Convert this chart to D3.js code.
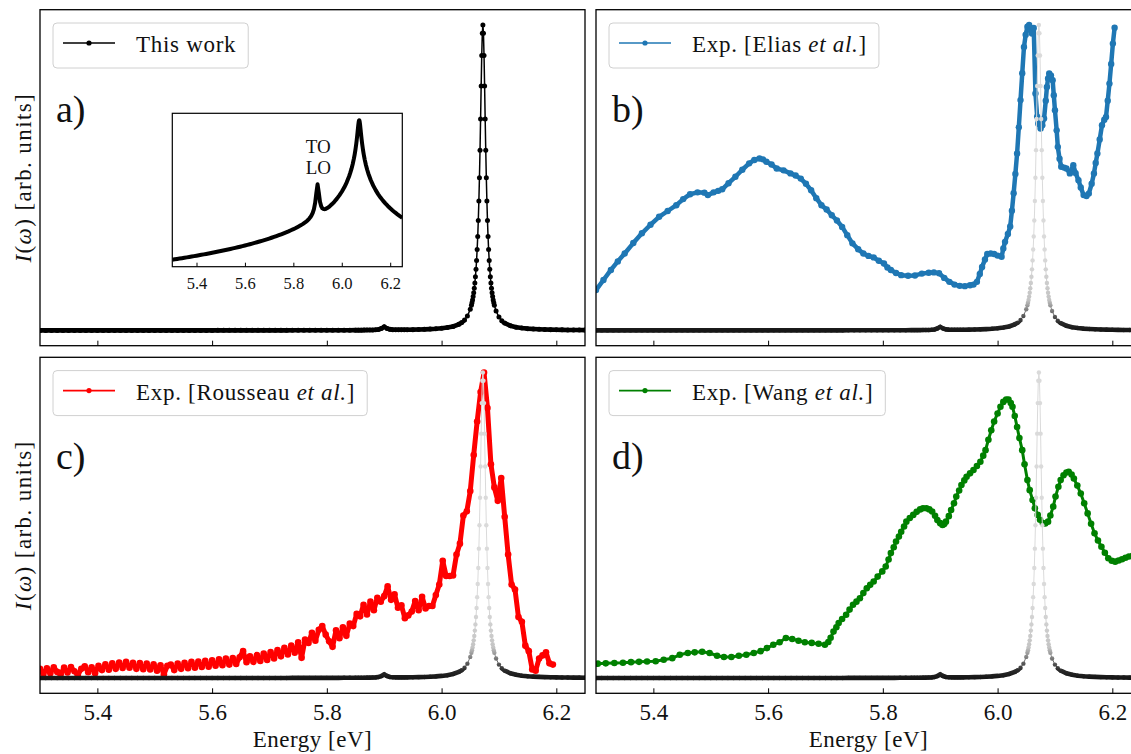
<!DOCTYPE html>
<meta charset="utf-8">
<head>
    <title>Exciton spectra</title>
    <style>
        body { margin: 0; background: #fff; }
        svg, svg text { font-family: "Liberation Serif", "Times New Roman", "DejaVu Serif", "Noto Serif", serif; fill: #111; }
    </style>
</head>

<script src="https://d3js.org/d3.v7.min.js"></script>

<div id="dataVis"></div>

<script>

    // x tick values / labels (shared by all panels and the inset)
    var tickValues = [5.4, 5.6, 5.8, 6.0, 6.2];
    var tickLabels = ["5.4", "5.6", "5.8", "6.0", "6.2"];

    // theory spectrum (this work), energy [eV] and normalised intensity
    var theoryE = [5.30, 5.31, 5.32, 5.33, 5.34, 5.35, 5.36, 5.37, 5.38, 5.39,
        5.40, 5.41, 5.42, 5.43, 5.44, 5.45, 5.46, 5.47, 5.48, 5.49,
        5.50, 5.51, 5.52, 5.53, 5.54, 5.55, 5.56, 5.57, 5.58, 5.59,
        5.60, 5.61, 5.62, 5.63, 5.64, 5.65, 5.66, 5.67, 5.68, 5.69,
        5.70, 5.71, 5.72, 5.73, 5.74, 5.75, 5.76, 5.77, 5.78, 5.79,
        5.80, 5.81, 5.82, 5.83, 5.84, 5.85,
        5.855, 5.86, 5.865, 5.87, 5.875, 5.88, 5.885, 5.89, 5.895, 5.90, 5.905, 5.91, 5.915, 5.92, 5.925, 5.93, 5.935, 5.94,
        5.95, 5.96, 5.97, 5.98, 5.99, 6.00, 6.01, 6.02, 6.03,
        6.035, 6.04, 6.045, 6.05,
        6.052, 6.053, 6.054, 6.055, 6.056, 6.057, 6.058, 6.059, 6.060, 6.061, 6.062, 6.063, 6.064, 6.065, 6.066, 6.067, 6.068, 6.069, 6.070, 6.071, 6.072,
        6.073, 6.074, 6.075, 6.076, 6.077, 6.078, 6.079, 6.080, 6.081, 6.082, 6.083, 6.084, 6.085, 6.086, 6.087, 6.088, 6.089, 6.090, 6.091, 6.092,
        6.095, 6.10, 6.105, 6.11,
        6.12, 6.13, 6.14, 6.15, 6.16, 6.17, 6.18, 6.19, 6.20, 6.21, 6.22, 6.23, 6.24, 6.25];
    var theoryI = [6.11e-5, 6.27e-5, 6.45e-5, 6.62e-5, 6.80e-5, 7.00e-5, 7.19e-5, 7.40e-5, 7.62e-5, 7.84e-5,
        8.08e-5, 8.33e-5, 8.58e-5, 8.85e-5, 9.13e-5, 9.43e-5, 9.75e-5, 1.007e-4, 1.042e-4, 1.079e-4,
        1.116e-4, 1.157e-4, 1.199e-4, 1.244e-4, 1.292e-4, 1.342e-4, 1.396e-4, 1.453e-4, 1.513e-4, 1.577e-4,
        1.645e-4, 1.718e-4, 1.796e-4, 1.878e-4, 1.968e-4, 2.063e-4, 2.167e-4, 2.278e-4, 2.396e-4, 2.527e-4,
        2.667e-4, 2.821e-4, 2.987e-4, 3.168e-4, 3.370e-4, 3.589e-4, 3.834e-4, 4.102e-4, 4.402e-4, 4.747e-4,
        5.12e-4, 5.56e-4, 6.08e-4, 6.68e-4, 7.41e-4, 8.34e-4,
        8.92e-4, 9.63e-4, 1.050e-3, 1.166e-3, 1.331e-3, 1.594e-3, 2.079e-3, 3.186e-3, 6.398e-3, 1.172e-2, 6.539e-3, 3.470e-3, 2.508e-3, 2.174e-3, 2.067e-3, 2.065e-3, 2.123e-3, 2.224e-3,
        2.517e-3, 2.934e-3, 3.500e-3, 4.280e-3, 5.360e-3, 6.920e-3, 9.300e-3, 1.316e-2, 2.000e-2,
        2.562e-2, 3.396e-2, 4.706e-2, 6.923e-2,
        0.0826, 0.0907, 0.1000, 0.1108, 0.1233, 0.1379, 0.1552, 0.1756, 0.2000, 0.2293, 0.2647, 0.3077, 0.3600, 0.4235, 0.5000, 0.5902, 0.6923, 0.8000, 0.9000, 0.9730, 1.0000,
        0.9730, 0.9000, 0.8000, 0.6923, 0.5902, 0.5000, 0.4235, 0.3600, 0.3077, 0.2647, 0.2293, 0.2000, 0.1756, 0.1552, 0.1379, 0.1233, 0.1108, 0.1000, 0.0907, 0.0826,
        0.0637, 0.0439, 0.0320, 0.0243,
        0.01538, 0.01059, 7.725e-3, 5.882e-3, 4.627e-3, 3.734e-3, 3.077e-3, 2.579e-3, 2.192e-3, 1.887e-3, 1.641e-3, 1.440e-3, 1.274e-3, 1.135e-3];

    // Exp. [Elias et al.]  [energy, intensity]
    var eliasData = [[5.300, 0.132], [5.313, 0.165], [5.326, 0.198], [5.338, 0.226], [5.350, 0.252], [5.365, 0.286], [5.380, 0.318], [5.395, 0.346],
        [5.410, 0.372], [5.425, 0.391], [5.440, 0.410], [5.452, 0.430], [5.464, 0.446], [5.477, 0.452], [5.489, 0.451], [5.495, 0.443],
        [5.505, 0.452], [5.513, 0.457], [5.520, 0.462], [5.531, 0.482], [5.543, 0.503], [5.555, 0.526], [5.567, 0.547], [5.576, 0.558],
        [5.585, 0.563], [5.591, 0.560], [5.597, 0.552], [5.606, 0.543], [5.615, 0.530], [5.627, 0.524], [5.639, 0.514], [5.648, 0.507],
        [5.657, 0.497], [5.666, 0.480], [5.675, 0.459], [5.684, 0.433], [5.693, 0.410], [5.702, 0.396], [5.711, 0.377], [5.720, 0.360],
        [5.729, 0.339], [5.738, 0.312], [5.747, 0.285], [5.757, 0.266], [5.766, 0.252], [5.775, 0.244], [5.784, 0.239], [5.793, 0.228],
        [5.802, 0.219], [5.808, 0.206], [5.814, 0.198], [5.823, 0.188], [5.832, 0.181], [5.844, 0.179], [5.856, 0.180], [5.868, 0.186],
        [5.880, 0.189], [5.889, 0.190], [5.898, 0.187], [5.907, 0.172], [5.916, 0.159], [5.925, 0.150], [5.934, 0.146], [5.943, 0.145],
        [5.952, 0.148], [5.958, 0.150], [5.964, 0.159], [5.969, 0.185], [5.973, 0.208], [5.978, 0.232], [5.982, 0.250], [5.988, 0.252],
        [5.994, 0.250], [6.000, 0.245], [6.007, 0.241], [6.010, 0.268], [6.013, 0.290], [6.018, 0.316], [6.022, 0.340], [6.025, 0.392],
        [6.028, 0.449], [6.031, 0.512], [6.034, 0.579], [6.037, 0.665], [6.040, 0.754], [6.043, 0.842], [6.046, 0.928], [6.049, 0.968],
        [6.052, 0.994], [6.055, 1.000], [6.058, 0.982], [6.060, 0.972], [6.063, 0.990], [6.066, 0.776], [6.069, 0.700], [6.071, 0.677],
        [6.075, 0.661], [6.078, 0.672], [6.081, 0.694], [6.084, 0.752], [6.086, 0.797], [6.088, 0.825], [6.090, 0.841], [6.093, 0.835],
        [6.096, 0.819], [6.098, 0.770], [6.100, 0.721], [6.103, 0.655], [6.105, 0.601], [6.108, 0.562], [6.111, 0.536], [6.116, 0.533],
        [6.120, 0.530], [6.126, 0.514], [6.132, 0.541], [6.136, 0.515], [6.141, 0.492], [6.145, 0.468], [6.150, 0.443], [6.155, 0.440],
        [6.159, 0.448], [6.164, 0.480], [6.168, 0.514], [6.171, 0.548], [6.174, 0.579], [6.178, 0.625], [6.182, 0.672], [6.186, 0.690],
        [6.189, 0.699], [6.192, 0.752], [6.195, 0.808], [6.198, 0.872], [6.201, 0.939], [6.204, 0.991]];

    // Exp. [Rousseau et al.]
    var rousseauData = [[5.300, 0.030], [5.306, 0.014], [5.312, 0.032], [5.318, 0.016], [5.324, 0.035], [5.330, 0.020], [5.336, 0.012], [5.342, 0.034], [5.348, 0.018], [5.354, 0.036],
        [5.360, 0.022], [5.366, 0.010], [5.372, 0.030], [5.378, 0.038], [5.384, 0.019], [5.390, 0.035], [5.396, 0.016], [5.402, 0.040], [5.408, 0.026], [5.414, 0.045],
        [5.420, 0.027], [5.426, 0.048], [5.432, 0.030], [5.438, 0.051], [5.444, 0.033], [5.450, 0.053], [5.456, 0.034], [5.462, 0.050], [5.468, 0.030], [5.474, 0.049],
        [5.480, 0.029], [5.486, 0.047], [5.492, 0.028], [5.498, 0.045], [5.504, 0.024], [5.510, 0.042], [5.516, 0.012], [5.522, 0.040], [5.528, 0.044], [5.534, 0.026],
        [5.540, 0.047], [5.546, 0.030], [5.552, 0.050], [5.558, 0.032], [5.564, 0.053], [5.570, 0.034], [5.576, 0.054], [5.582, 0.036], [5.588, 0.056], [5.594, 0.037],
        [5.600, 0.058], [5.606, 0.040], [5.612, 0.061], [5.618, 0.042], [5.624, 0.064], [5.630, 0.044], [5.636, 0.065], [5.642, 0.046], [5.648, 0.068], [5.654, 0.088],
        [5.660, 0.052], [5.666, 0.071], [5.672, 0.053], [5.678, 0.075], [5.684, 0.056], [5.690, 0.080], [5.696, 0.059], [5.702, 0.085], [5.708, 0.064], [5.714, 0.092],
        [5.720, 0.071], [5.726, 0.099], [5.732, 0.077], [5.738, 0.106], [5.744, 0.083], [5.750, 0.117], [5.756, 0.066], [5.762, 0.126], [5.768, 0.115], [5.774, 0.148],
        [5.780, 0.122], [5.786, 0.158], [5.792, 0.170], [5.798, 0.142], [5.804, 0.120], [5.810, 0.102], [5.816, 0.156], [5.822, 0.130], [5.828, 0.166], [5.834, 0.138],
        [5.840, 0.178], [5.846, 0.170], [5.852, 0.210], [5.858, 0.202], [5.864, 0.240], [5.870, 0.208], [5.876, 0.250], [5.882, 0.222], [5.888, 0.263], [5.894, 0.250],
        [5.900, 0.268], [5.906, 0.300], [5.912, 0.256], [5.918, 0.274], [5.924, 0.230], [5.930, 0.238], [5.936, 0.196], [5.942, 0.205], [5.948, 0.218], [5.954, 0.252],
        [5.960, 0.222], [5.966, 0.266], [5.972, 0.228], [5.978, 0.236], [5.984, 0.236], [5.990, 0.272], [5.996, 0.306], [6.002, 0.384], [6.008, 0.334], [6.014, 0.334],
        [6.020, 0.336], [6.026, 0.404], [6.032, 0.440], [6.038, 0.532], [6.044, 0.546], [6.050, 0.612], [6.056, 0.730], [6.062, 0.840], [6.068, 0.936], [6.074, 1.000],
        [6.080, 0.884], [6.086, 0.700], [6.092, 0.624], [6.098, 0.580], [6.104, 0.655], [6.110, 0.528], [6.116, 0.404], [6.122, 0.306], [6.128, 0.290], [6.134, 0.200],
        [6.140, 0.184], [6.146, 0.106], [6.152, 0.088], [6.158, 0.028], [6.164, 0.024], [6.170, 0.064], [6.176, 0.074], [6.182, 0.084], [6.188, 0.048], [6.194, 0.044]];

    // Exp. [Wang et al.]
    var wangData = [[5.303, 0.047], [5.317, 0.048], [5.332, 0.049], [5.347, 0.050], [5.361, 0.052], [5.375, 0.053], [5.389, 0.054], [5.404, 0.055],
        [5.418, 0.060], [5.433, 0.065], [5.446, 0.076], [5.460, 0.082], [5.472, 0.084], [5.485, 0.086], [5.498, 0.082], [5.511, 0.073],
        [5.523, 0.069], [5.536, 0.069], [5.549, 0.073], [5.562, 0.076], [5.575, 0.082], [5.587, 0.088], [5.598, 0.098], [5.609, 0.109],
        [5.620, 0.117], [5.631, 0.131], [5.642, 0.128], [5.653, 0.122], [5.664, 0.117], [5.676, 0.115], [5.688, 0.112], [5.699, 0.109],
        [5.705, 0.118], [5.709, 0.132], [5.714, 0.152], [5.719, 0.166], [5.723, 0.180], [5.729, 0.193], [5.736, 0.207], [5.742, 0.224],
        [5.748, 0.240], [5.754, 0.250], [5.760, 0.261], [5.766, 0.278], [5.772, 0.294], [5.778, 0.305], [5.784, 0.316], [5.791, 0.332],
        [5.799, 0.349], [5.805, 0.365], [5.810, 0.388], [5.814, 0.409], [5.819, 0.428], [5.823, 0.447], [5.828, 0.463], [5.832, 0.479],
        [5.837, 0.496], [5.841, 0.512], [5.847, 0.524], [5.853, 0.534], [5.859, 0.544], [5.865, 0.552], [5.870, 0.556], [5.876, 0.556],
        [5.881, 0.552], [5.886, 0.545], [5.891, 0.531], [5.895, 0.517], [5.900, 0.507], [5.904, 0.501], [5.907, 0.504], [5.910, 0.512],
        [5.915, 0.530], [5.919, 0.550], [5.924, 0.572], [5.928, 0.594], [5.933, 0.614], [5.937, 0.632], [5.942, 0.647], [5.946, 0.659],
        [5.952, 0.670], [5.958, 0.681], [5.964, 0.694], [5.970, 0.708], [5.975, 0.728], [5.979, 0.746], [5.984, 0.780], [5.989, 0.811],
        [5.994, 0.840], [6.000, 0.866], [6.005, 0.888], [6.010, 0.904], [6.015, 0.912], [6.019, 0.912], [6.023, 0.900], [6.026, 0.888],
        [6.030, 0.858], [6.034, 0.822], [6.038, 0.786], [6.043, 0.746], [6.047, 0.700], [6.052, 0.648], [6.056, 0.615], [6.061, 0.583],
        [6.065, 0.556], [6.070, 0.534], [6.074, 0.518], [6.079, 0.507], [6.083, 0.506], [6.088, 0.512], [6.092, 0.532], [6.097, 0.561],
        [6.101, 0.594], [6.106, 0.626], [6.110, 0.648], [6.115, 0.664], [6.120, 0.673], [6.124, 0.675], [6.129, 0.666], [6.133, 0.653],
        [6.139, 0.630], [6.145, 0.604], [6.151, 0.572], [6.157, 0.539], [6.163, 0.505], [6.169, 0.474], [6.175, 0.450], [6.181, 0.430],
        [6.187, 0.410], [6.193, 0.392], [6.199, 0.384], [6.205, 0.381], [6.211, 0.385], [6.217, 0.389], [6.223, 0.394], [6.229, 0.398],
        [6.235, 0.400], [6.241, 0.401], [6.247, 0.400]];

    var theory = theoryE.map(function (e, i) { return [e, theoryI[i]]; });

    var W = 1131, H = 754;
    var pw = 545, ph = 336;
    var serif = '"Liberation Serif", "Times New Roman", "DejaVu Serif", "Noto Serif", serif';

    var svg = d3.select("#dataVis")
        .append("svg")
        .attr("width", W)
        .attr("height", H)
        .style("font-family", serif);

    var defs = svg.append("defs");

    var x = d3.scaleLinear().domain([5.3, 6.25]).range([0, pw]);
    var y = d3.scaleLinear().domain([-0.05, 1.05]).range([ph, 0]);
    var line = d3.line().x(function (d) { return x(d[0]); }).y(function (d) { return y(d[1]); });

    // theory in b/c/d: dark where dense (baseline), light grey on the peak
    var grad = defs.append("linearGradient")
        .attr("id", "theoryFade")
        .attr("gradientUnits", "userSpaceOnUse")
        .attr("x1", 0).attr("x2", 0)
        .attr("y1", y(0)).attr("y2", y(0.25));
    grad.append("stop").attr("offset", 0).attr("stop-color", "#161616");
    grad.append("stop").attr("offset", 0.1).attr("stop-color", "#2a2a2a");
    grad.append("stop").attr("offset", 0.4).attr("stop-color", "#c4c4c4");
    grad.append("stop").attr("offset", 1).attr("stop-color", "#dadada");

    defs.append("clipPath").attr("id", "baseBand")
        .append("rect").attr("x", 0).attr("y", y(0.03)).attr("width", pw).attr("height", ph - y(0.03));

    var panels = [
        { key: "a", left: 40, top: 9.7, data: null, letter: "a)", legend: [["This work", false]], color: "#000", bottom: false, yLabel: true },
        { key: "b", left: 596, top: 9.7, data: eliasData, color: "#1f77b4", lw: 4.5, r: 3.2, letter: "b)",
          legend: [["Exp. [Elias ", false], ["et al.", true], ["]", false]], bottom: false, yLabel: false },
        { key: "c", left: 40, top: 357.3, data: rousseauData, color: "#ff0000", lw: 5, r: 3.3, letter: "c)",
          legend: [["Exp. [Rousseau ", false], ["et al.", true], ["]", false]], bottom: true, yLabel: true },
        { key: "d", left: 596, top: 357.3, data: wangData, color: "#008000", lw: 3, r: 3.3, letter: "d)",
          legend: [["Exp. [Wang ", false], ["et al.", true], ["]", false]], bottom: true, yLabel: false }
    ];

    panels.forEach(function (p) {
        var g = svg.append("g").attr("transform", "translate(" + p.left + "," + p.top + ")");

        defs.append("clipPath").attr("id", "clip-" + p.key)
            .append("rect").attr("width", pw).attr("height", ph);

        var plot = g.append("g").attr("clip-path", "url(#clip-" + p.key + ")");

        if (p.data) {
            plot.append("path")
                .datum(p.data)
                .attr("d", line)
                .attr("fill", "none")
                .attr("stroke", p.color)
                .attr("stroke-width", p.lw)
                .attr("stroke-linejoin", "round");
            plot.append("g")
                .selectAll("circle")
                .data(p.data)
                .join("circle")
                .attr("cx", function (d) { return x(d[0]); })
                .attr("cy", function (d) { return y(d[1]); })
                .attr("r", p.r)
                .attr("fill", p.color);
        }

        // theory curve
        var tCol = p.data ? "url(#theoryFade)" : "#000";
        plot.append("path")
            .datum(theory)
            .attr("d", line)
            .attr("fill", "none")
            .attr("stroke", tCol)
            .attr("stroke-width", 4.6)
            .attr("clip-path", "url(#baseBand)");
        plot.append("path")
            .datum(theory)
            .attr("d", line)
            .attr("fill", "none")
            .attr("stroke", tCol)
            .attr("stroke-width", p.data ? 1 : 1.5);
        plot.append("g")
            .selectAll("circle")
            .data(theory)
            .join("circle")
            .attr("cx", function (d) { return x(d[0]); })
            .attr("cy", function (d) { return y(d[1]); })
            .attr("r", p.data ? 2.2 : 2.5)
            .attr("fill", tCol);

        // x axis (ticks pointing inward)
        var ax = g.append("g")
            .attr("transform", "translate(0," + ph + ")")
            .call(d3.axisBottom(x)
                .tickValues(tickValues)
                .tickSize(-5)
                .tickPadding(10)
                .tickFormat(function (d, i) { return p.bottom ? tickLabels[i] : ""; }));
        ax.attr("font-family", serif);
        ax.select(".domain").remove();
        ax.selectAll("line").attr("stroke", "#000").attr("stroke-width", 1);
        ax.selectAll("text").style("font-family", serif).style("font-size", "23px").attr("fill", "#111");

        // frame
        g.append("rect")
            .attr("width", pw).attr("height", ph)
            .attr("fill", "none")
            .attr("stroke", "#000")
            .attr("stroke-width", 1.3);

        // panel letter
        g.append("text")
            .attr("x", 16).attr("y", 112)
            .style("font-family", serif)
            .style("font-size", "38px")
            .text(p.letter);

        // legend
        var lg = g.append("g").attr("transform", "translate(13,13.3)");
        var box = lg.append("rect")
            .attr("height", 45)
            .attr("rx", 4)
            .attr("fill", "#fff").attr("fill-opacity", 0.8)
            .attr("stroke", "#d0d0d0").attr("stroke-width", 1);
        lg.append("line")
            .attr("x1", 10).attr("x2", 62).attr("y1", 20).attr("y2", 20)
            .attr("stroke", p.color).attr("stroke-width", 1.6);
        lg.append("circle").attr("cx", 36).attr("cy", 20).attr("r", 2.6).attr("fill", p.color);
        var lt = lg.append("text")
            .attr("x", 83).attr("y", 29)
            .style("font-family", serif)
            .style("font-size", "23px")
            .style("letter-spacing", "0.7px");
        p.legend.forEach(function (part) {
            lt.append("tspan").attr("font-style", part[1] ? "italic" : null).text(part[0]);
        });
        box.attr("width", 83 + lt.node().getComputedTextLength() + 12);

        if (p.bottom) {
            g.append("text")
                .attr("x", pw / 2).attr("y", 390)
                .attr("text-anchor", "middle")
                .style("font-family", serif)
                .style("font-size", "23px")
                .style("letter-spacing", "0.5px")
                .text("Energy [eV]");
        }
        if (p.yLabel) {
            var yl = g.append("text")
                .attr("transform", "translate(" + (31 - p.left) + "," + (ph / 2) + ") rotate(-90)")
                .attr("text-anchor", "middle")
                .style("font-family", serif)
                .style("font-size", "23px")
                .style("letter-spacing", "1.4px");
            yl.append("tspan").attr("font-style", "italic").text("I");
            yl.append("tspan").text("(");
            yl.append("tspan").attr("font-style", "italic").text("ω");
            yl.append("tspan").text(") [arb. units]");
        }
    });

    // inset of panel a (log intensity)
    var iw = 230, ih = 153.4;
    var xi = d3.scaleLinear().domain([5.3, 6.25]).range([0, iw]);
    var yi = d3.scaleLog().domain([3.76e-5, 1.625]).range([ih, 0]);
    var inset = svg.append("g").attr("transform", "translate(172.3,113.3)");
    defs.append("clipPath").attr("id", "clip-inset").append("rect").attr("width", iw).attr("height", ih);
    inset.append("rect").attr("width", iw).attr("height", ih).attr("fill", "#fff");
    inset.append("g").attr("clip-path", "url(#clip-inset)")
        .append("path")
        .datum(theory)
        .attr("d", d3.line().x(function (d) { return xi(d[0]); }).y(function (d) { return yi(d[1]); }))
        .attr("fill", "none")
        .attr("stroke", "#000")
        .attr("stroke-width", 4)
        .attr("stroke-linejoin", "round");
    var iax = inset.append("g")
        .attr("transform", "translate(0," + ih + ")")
        .call(d3.axisBottom(xi)
            .tickValues(tickValues)
            .tickSize(-4)
            .tickPadding(11)
            .tickFormat(function (d, i) { return tickLabels[i]; }));
    iax.attr("font-family", serif);
    iax.select(".domain").remove();
    iax.selectAll("line").attr("stroke", "#000");
    iax.selectAll("text").style("font-family", serif).style("font-size", "16.5px").attr("fill", "#222");
    inset.append("rect").attr("width", iw).attr("height", ih)
        .attr("fill", "none").attr("stroke", "#000").attr("stroke-width", 1.2);
    inset.append("text").attr("x", 146).attr("y", 40).attr("text-anchor", "middle")
        .style("font-family", serif).style("font-size", "19px").text("TO");
    inset.append("text").attr("x", 146).attr("y", 61).attr("text-anchor", "middle")
        .style("font-family", serif).style("font-size", "19px").text("LO");

</script>
